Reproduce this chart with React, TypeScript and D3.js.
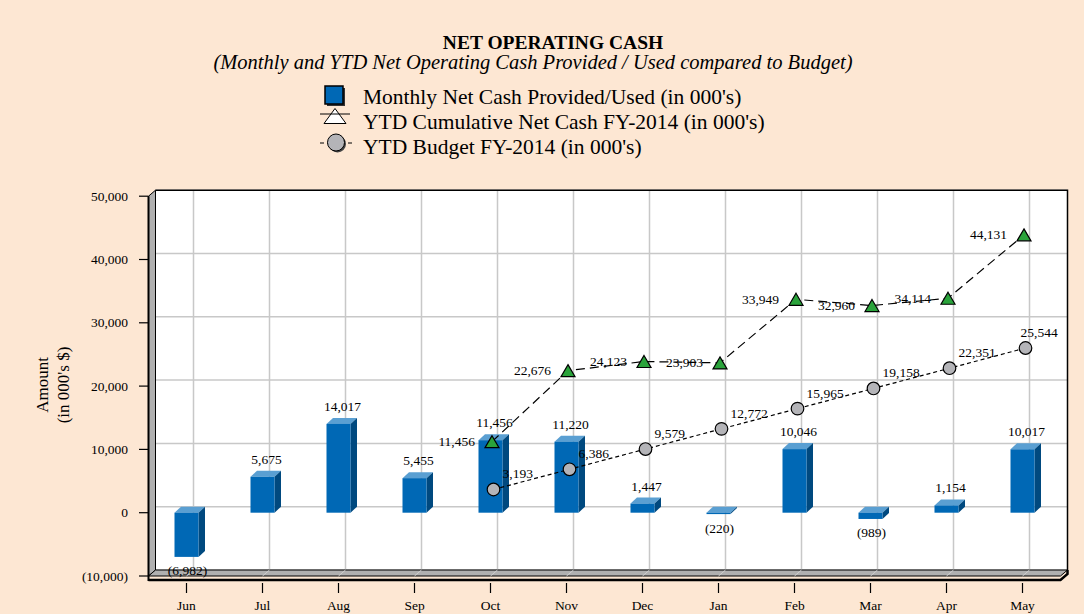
import React from "react";
import * as d3 from "d3";

// chart data
const months = ["Jun", "Jul", "Aug", "Sep", "Oct", "Nov", "Dec", "Jan", "Feb", "Mar", "Apr", "May"];
const monthlyNet = [-6982, 5675, 14017, 5455, 11456, 11220, 1447, -220, 10046, -989, 1154, 10017];
const ytdActual = [null, null, null, null, 11456, 22676, 24123, 23903, 33949, 32960, 34114, 44131];
const ytdBudget = [null, null, null, null, 3193, 6386, 9579, 12772, 15965, 19158, 22351, 25544];
const yTicks = [-10000, 0, 10000, 20000, 30000, 40000, 50000];

const title = "NET OPERATING CASH";
const subtitle = "(Monthly and YTD Net Operating Cash Provided / Used compared to Budget)";
const legendLabels = [
  "Monthly Net Cash Provided/Used (in 000's)",
  "YTD Cumulative Net Cash FY-2014 (in 000's)",
  "YTD Budget FY-2014 (in 000's)",
];

const W = 1084;
const H = 614;
const FONT = "'Liberation Serif', 'Times New Roman', serif";
const BG = "#fde7d3";
const DX = 7; // depth offset of the back wall
const DY = -6;

const fmt = (v: number) => {
  const s = d3.format(",")(Math.abs(v));
  return v < 0 ? `(${s})` : s;
};

const App = () => {
  const x = d3.scaleBand<string>().domain(months).range([148.5, 1060.5]);
  const y = d3.scaleLinear().domain([-10000, 50000]).range([576, 196.2]);
  const bw = x.bandwidth();
  const cx = (m: string) => (x(m) as number) + bw / 2;

  const left = 148.5;
  const right = 1060.5;
  const top = y(50000);
  const bottom = y(-10000);

  const barW = 24;
  const bdx = 6.5;
  const bdy = -6;

  // marker positions
  const triPts = months
    .map((m, i) => ({ m, v: ytdActual[i] }))
    .filter((d) => d.v !== null)
    .map((d) => ({ ...d, px: cx(d.m) + 1.5, py: y(d.v as number) + 1.5 }));
  const cirPts = months
    .map((m, i) => ({ m, v: ytdBudget[i] }))
    .filter((d) => d.v !== null)
    .map((d) => ({ ...d, px: cx(d.m) + 3, py: y(d.v as number) - 3 }));

  const line = d3
    .line<{ px: number; py: number }>()
    .x((d) => d.px)
    .y((d) => d.py);

  const tri = (px: number, py: number, w = 14, h = 12) =>
    `M${px},${py - h / 2}L${px + w / 2},${py + h / 2}L${px - w / 2},${py + h / 2}Z`;

  return (
    <svg
      width={W}
      height={H}
      style={{ position: "absolute", left: 0, top: 0, background: BG }}
      fontFamily={FONT}
    >
      <rect width={W} height={H} fill={BG} />

      {/* titles */}
      <text x={553} y={49} textAnchor="middle" fontSize={19.5} fontWeight="bold" fill="#000">
        {title}
      </text>
      <text x={533} y={69} textAnchor="middle" fontSize={20.5} fontStyle="italic" fill="#000">
        {subtitle}
      </text>

      {/* legend */}
      <g>
        <rect x={327} y={88} width={18} height={18} fill="#333" />
        <rect x={325} y={86} width={18} height={18} fill="#0068b5" stroke="#000" strokeWidth={1.5} />
        <text x={363} y={104} fontSize={21.5}>{legendLabels[0]}</text>

        <path d={tri(335, 116, 22, 15)} fill="#fff" stroke="#000" strokeWidth={1} />
        <line x1={320} x2={350} y1={114} y2={114} stroke="#000" strokeWidth={1} />
        <text x={363} y={129} fontSize={21.5}>{legendLabels[1]}</text>

        <line x1={320} x2={352} y1={143} y2={143} stroke="#000" strokeWidth={1} strokeDasharray="4,3" />
        <circle cx={337.5} cy={144} r={8.5} fill="#444" />
        <circle cx={336} cy={142.5} r={8.5} fill="#b4b4b8" stroke="#000" strokeWidth={1} />
        <text x={363} y={154} fontSize={21.5}>{legendLabels[2]}</text>
      </g>

      {/* back wall */}
      <rect x={left + DX} y={top + DY} width={right - left} height={bottom - top} fill="#fff" />
      {yTicks.map((t) => (
        <g key={`hg${t}`}>
          <line x1={left + DX} x2={right + DX} y1={y(t) + DY} y2={y(t) + DY} stroke="#c8c8c8" strokeWidth={1.5} />
          <line x1={left} x2={left + DX} y1={y(t)} y2={y(t) + DY} stroke="#d8d8d8" strokeWidth={1} />
        </g>
      ))}
      {months.map((m) => (
        <line
          key={`vg${m}`}
          x1={cx(m) + DX}
          x2={cx(m) + DX}
          y1={top + DY}
          y2={bottom + DY}
          stroke="#c8c8c8"
          strokeWidth={1.5}
        />
      ))}
      <path
        d={`M${left + DX},${top + DY}H${right + DX}V${bottom + DY}`}
        fill="none"
        stroke="#000"
        strokeWidth={1.5}
      />

      {/* left wall */}
      <path
        d={`M${left},${top}L${left + DX},${top + DY}V${bottom + DY}L${left},${bottom}Z`}
        fill="#b0b0b0"
        stroke="#000"
        strokeWidth={1}
      />
      {/* floor */}
      <path
        d={`M${left},${bottom}L${left + DX},${bottom + DY}H${right + DX}L${right},${bottom}Z`}
        fill="#b0b0b0"
        stroke="#000"
        strokeWidth={1}
      />
      {months.map((m) => (
        <line key={`fg${m}`} x1={cx(m)} x2={cx(m) + DX} y1={bottom} y2={bottom + DY} stroke="#d0d0d0" strokeWidth={1} />
      ))}
      <path
        d={`M${left},${bottom + 4}H${right}L${right + DX},${bottom + DY + 4}V${bottom + DY}`}
        fill="none"
        stroke="#000"
        strokeWidth={2.5}
      />
      <line x1={left} x2={left} y1={top} y2={bottom + 5} stroke="#000" strokeWidth={2} />

      {/* y axis ticks */}
      {yTicks.map((t) => (
        <g key={`yt${t}`}>
          <line x1={139} x2={left} y1={y(t)} y2={y(t)} stroke="#000" strokeWidth={1.2} />
          <text x={128} y={y(t) + 4.5} textAnchor="end" fontSize={13.5}>
            {fmt(t)}
          </text>
        </g>
      ))}
      <text transform="translate(48,385) rotate(-90)" textAnchor="middle" fontSize={17}>
        Amount
      </text>
      <text transform="translate(69,385) rotate(-90)" textAnchor="middle" fontSize={17}>
        (in 000's $)
      </text>

      {/* x axis ticks */}
      {months.map((m) => (
        <g key={`xt${m}`}>
          <line x1={cx(m)} x2={cx(m)} y1={583} y2={593} stroke="#000" strokeWidth={1.2} />
          <text x={cx(m)} y={610} textAnchor="middle" fontSize={13.5}>
            {m}
          </text>
        </g>
      ))}

      {/* bars */}
      {months.map((m, i) => {
        const v = monthlyNet[i];
        const x0 = cx(m) - barW / 2;
        const x1 = x0 + barW;
        const yt = y(Math.max(v, 0));
        const yb = y(Math.min(v, 0));
        return (
          <g key={`bar${m}`}>
            <path d={`M${x0},${yt}L${x0 + bdx},${yt + bdy}H${x1 + bdx}L${x1},${yt}Z`} fill="#5a9fd2" />
            <path d={`M${x1},${yt}L${x1 + bdx},${yt + bdy}V${yb + bdy}L${x1},${yb}Z`} fill="#00497f" />
            <rect x={x0} y={yt} width={barW} height={Math.max(yb - yt, 0.1)} fill="#0068b5" />
          </g>
        );
      })}

      {/* lines */}
      <path d={line(triPts) as string} fill="none" stroke="#000" strokeWidth={1.2} strokeDasharray="9,5" />
      <path d={line(cirPts) as string} fill="none" stroke="#000" strokeWidth={1.2} strokeDasharray="4,3" />

      {/* bar labels */}
      {months.map((m, i) => {
        const v = monthlyNet[i];
        return v >= 0 ? (
          <text key={`bl${m}`} x={cx(m) + 4} y={y(v) + bdy - 7} textAnchor="middle" fontSize={13.5}>
            {fmt(v)}
          </text>
        ) : (
          <text key={`bl${m}`} x={cx(m) + 1} y={y(v) + 18.5} textAnchor="middle" fontSize={13.5}>
            {fmt(v)}
          </text>
        );
      })}

      {/* markers */}
      {triPts.map((d) => (
        <g key={`tri${d.m}`}>
          <path d={tri(d.px, d.py)} fill="#2aa33b" stroke="#000" strokeWidth={1.2} />
          <text x={d.px - 17} y={d.py + 4.5} textAnchor="end" fontSize={13.5}>
            {fmt(d.v as number)}
          </text>
        </g>
      ))}
      {cirPts.map((d) => (
        <g key={`cir${d.m}`}>
          <circle cx={d.px} cy={d.py} r={6.3} fill="#b4b4b8" stroke="#000" strokeWidth={1.2} />
          <text x={Math.min(d.px + 9, right - 40)} y={d.py - 11} fontSize={13.5}>
            {fmt(d.v as number)}
          </text>
        </g>
      ))}
    </svg>
  );
};

export default App;
